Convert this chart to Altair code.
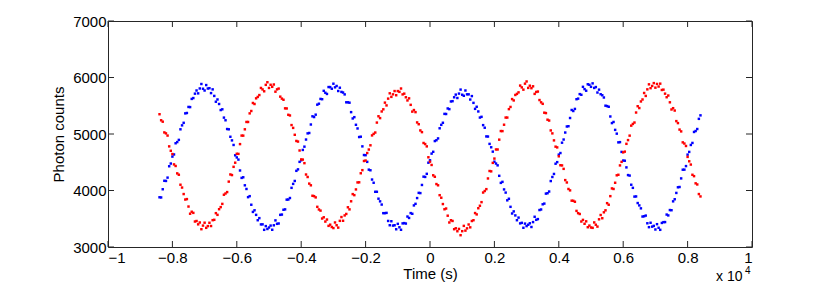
import altair as alt
import pandas as pd

# ---------------- data ----------------
time_s = list(range(-8400, 8401, 50))

blue_counts = [
    3880, 3877, 4022, 4172, 4169, 4228, 4429, 4477, 4600, 4638, 4836, 4857, 4896, 5083, 5153, 5198, 5365, 5372, 5479, 5476,
    5621, 5636, 5714, 5770, 5719, 5806, 5885, 5801, 5770,
    5866, 5805, 5811, 5724, 5790, 5674, 5571, 5611, 5531, 5424, 5437, 5290, 5243, 5088, 5083, 4951, 4887, 4806, 4623, 4585,
    4547, 4354, 4223, 4234, 4092, 4027, 3882, 3900, 3748, 3621, 3649, 3569, 3474, 3511, 3400, 3401, 3304, 3370, 3319, 3345,
    3379, 3305, 3384, 3471, 3410, 3416, 3569, 3574, 3659, 3666, 3838, 3840, 3867, 4047, 4117, 4169, 4348, 4374, 4507, 4535,
    4718, 4776, 4902, 5011, 5018, 5168, 5313, 5300, 5342, 5519, 5536, 5621, 5616, 5764, 5730, 5709, 5831, 5830, 5801, 5890,
    5826, 5850, 5761, 5819, 5745, 5734, 5701, 5561, 5561, 5554, 5387, 5275, 5298, 5163, 5098, 4946, 4952, 4781, 4628, 4625,
    4507, 4369, 4358, 4194, 4137, 3977, 3977, 3855, 3808, 3751, 3599, 3599, 3604, 3461, 3385, 3456, 3379, 3385, 3314, 3410,
    3349, 3305, 3418, 3423, 3415, 3539, 3514, 3600, 3588, 3736, 3764, 3866, 3958, 3954, 4098, 4245, 4240, 4295, 4492, 4535,
    4653, 4685, 4875, 4890, 4922, 5101, 5162, 5199, 5356, 5354, 5452, 5440, 5576, 5581, 5650, 5697, 5637, 5715, 5786, 5695,
    5676, 5770, 5702, 5702, 5610, 5671, 5551, 5445, 5482, 5399, 5291, 5304, 5157, 5111, 4957, 4955, 4825, 4765, 4688, 4510,
    4477, 4445, 4260, 4135, 4153, 4019, 3963, 3826, 3854, 3711, 3593, 3630, 3559, 3474, 3520, 3418, 3428, 3340, 3414, 3370,
    3394, 3420, 3354, 3441, 3535, 3481, 3494, 3654, 3664, 3756, 3768, 3945, 3952, 3982, 4167, 4239, 4293, 4474, 4502, 4635,
    4663, 4846, 4902, 5026, 5133, 5138, 5283, 5425, 5407, 5444, 5616, 5626, 5706, 5694, 5835, 5794, 5766, 5880, 5871, 5835,
    5896, 5815, 5831, 5734, 5785, 5704, 5686, 5646, 5501, 5494, 5482, 5310, 5193, 5213, 5073, 5006, 4852, 4856, 4683, 4530,
    4527, 4409, 4273, 4264, 4102, 4047, 3892, 3895, 3778, 3736, 3684, 3539, 3544, 3556, 3420, 3351, 3429, 3360, 3374, 3310,
    3404, 3340, 3304, 3426, 3440, 3441, 3574, 3559, 3654, 3651, 3808, 3845, 3957, 4057, 4062, 4214, 4368, 4369, 4432, 4635,
    4683, 4806, 4842, 5036, 5053, 5088, 5268, 5330,
]

red_counts = [
    5350, 5243, 5218, 5028, 5011, 4972, 4781, 4703, 4645, 4462, 4434, 4303, 4279, 4102, 4052, 3937, 3840, 3848, 3716, 3589,
    3624, 3604, 3451, 3460, 3401, 3434, 3315, 3379, 3430,
    3339, 3370, 3429, 3371, 3475, 3481, 3599, 3569, 3669, 3706, 3763, 3925, 3947, 3972, 4157, 4284, 4273, 4419, 4492, 4650,
    4648, 4821, 4972, 4971, 5083, 5213, 5213, 5365, 5407, 5549, 5531, 5631, 5656, 5689, 5815, 5789, 5756, 5870, 5916, 5815,
    5871, 5835, 5876, 5749, 5790, 5804, 5661, 5626, 5606, 5454, 5452, 5340, 5328, 5158, 5108, 4986, 4877, 4866, 4708, 4550,
    4547, 4484, 4283, 4239, 4122, 4092, 3907, 3900, 3878, 3711, 3664, 3644, 3504, 3526, 3450, 3486, 3374, 3395, 3354, 3335,
    3434, 3385, 3343, 3463, 3530, 3464, 3559, 3585, 3703, 3666, 3809, 3936, 3918, 4019, 4143, 4145, 4305, 4360, 4522, 4530,
    4663, 4725, 4800, 4975, 5002, 5026, 5202, 5314, 5281, 5399, 5437, 5555, 5506, 5626, 5720, 5657, 5702, 5760, 5686, 5760,
    5746, 5805, 5701, 5714, 5650, 5594, 5631, 5516, 5396, 5424, 5387, 5205, 5173, 5063, 5033, 4841, 4822, 4781, 4588, 4510,
    4452, 4269, 4243, 4114, 4092, 3917, 3872, 3760, 3668, 3681, 3554, 3434, 3474, 3461, 3315, 3331, 3279, 3320, 3209, 3280,
    3374, 3290, 3330, 3398, 3348, 3460, 3474, 3601, 3577, 3686, 3730, 3794, 3964, 3991, 4024, 4213, 4345, 4339, 4489, 4565,
    4726, 4726, 4900, 5052, 5051, 5164, 5291, 5291, 5440, 5479, 5618, 5594, 5691, 5710, 5737, 5857, 5825, 5785, 5891, 5930,
    5816, 5855, 5811, 5844, 5710, 5744, 5751, 5601, 5561, 5534, 5377, 5370, 5253, 5238, 5063, 5011, 4887, 4776, 4763, 4605,
    4447, 4444, 4383, 4184, 4142, 4027, 4002, 3820, 3818, 3801, 3639, 3599, 3584, 3451, 3480, 3411, 3454, 3350, 3379, 3345,
    3339, 3435, 3394, 3361, 3490, 3566, 3509, 3614, 3649, 3776, 3748, 3900, 4037, 4027, 4137, 4269, 4278, 4444, 4507, 4675,
    4688, 4826, 4892, 4971, 5148, 5178, 5203, 5380, 5492, 5459, 5576, 5611, 5726, 5674, 5790, 5879, 5811, 5850, 5901, 5820,
    5886, 5840, 5891, 5779, 5785, 5714, 5651, 5681, 5561, 5434, 5457, 5415, 5228, 5193, 5078, 5046, 4852, 4831, 4788, 4595,
    4517, 4459, 4278, 4254, 4127, 4107, 3937, 3895,
]

series_names = ["blue", "red"]
series_colors = ["#0000ff", "#ff0000"]
x_ticks = [-10000, -8000, -6000, -4000, -2000, 0, 2000, 4000, 6000, 8000, 10000]
y_ticks = [3000, 4000, 5000, 6000, 7000]

# ---------------- layout ----------------
W, H = 644, 226
FONT = "Liberation Sans"
BOX = "#262626"
TICK = 6

df = pd.concat([
    pd.DataFrame({"t": time_s, "counts": blue_counts, "series": series_names[0]}),
    pd.DataFrame({"t": time_s, "counts": red_counts, "series": series_names[1]}),
], ignore_index=True)

xscale = alt.Scale(domain=[-10000, 10000], nice=False, zero=False)
yscale = alt.Scale(domain=[3000, 7000], nice=False, zero=False)

x_axis = alt.Axis(values=x_ticks, labelExpr="format(datum.value / 10000, '~g')",
                  title="Time (s)", labelPadding=3, titlePadding=1)
y_axis = alt.Axis(values=y_ticks, format="d", title="Photon counts",
                  labelPadding=2, titlePadding=6)


def X():
    return alt.X("t:Q", scale=xscale, axis=x_axis)


def Y():
    return alt.Y("counts:Q", scale=yscale, axis=y_axis)


points = alt.Chart(df).mark_square(size=6, opacity=1).encode(
    x=X(), y=Y(),
    color=alt.Color("series:N", scale=alt.Scale(domain=series_names, range=series_colors), legend=None),
)

xt = pd.DataFrame({"t": x_ticks})
yt = pd.DataFrame({"counts": y_ticks})

tick_bottom = alt.Chart(xt).mark_rule(color=BOX, strokeWidth=1).encode(
    x=X(), y=alt.value(H), y2=alt.value(H - TICK))
tick_top = alt.Chart(xt).mark_rule(color=BOX, strokeWidth=1).encode(
    x=X(), y=alt.value(0), y2=alt.value(TICK))
tick_left = alt.Chart(yt).mark_rule(color=BOX, strokeWidth=1).encode(
    y=Y(), x=alt.value(0), x2=alt.value(TICK))
tick_right = alt.Chart(yt).mark_rule(color=BOX, strokeWidth=1).encode(
    y=Y(), x=alt.value(W), x2=alt.value(W - TICK))

one = pd.DataFrame({"a": [0]})
mult = alt.Chart(one).mark_text(text="x 10", align="left", baseline="alphabetic",
                                font=FONT, fontSize=14, color="black").encode(
    x=alt.value(608), y=alt.value(260))
expo = alt.Chart(one).mark_text(text="4", align="left", baseline="alphabetic",
                                font=FONT, fontSize=10, color="black").encode(
    x=alt.value(637), y=alt.value(253))

chart = alt.layer(points, tick_bottom, tick_top, tick_left, tick_right, mult, expo).properties(
    width=W, height=H,
    autosize="none",
    padding={"left": 100, "top": 13, "right": 70, "bottom": 39},
    background="white",
).configure_view(
    stroke=BOX, strokeWidth=1
).configure_axis(
    domain=False, ticks=False, grid=False,
    labelFont=FONT, labelFontSize=15, labelColor="black",
    titleFont=FONT, titleFontSize=15, titleFontWeight="normal", titleColor="black",
)

chart.save("out.html", embed_options={"renderer": "svg", "actions": False})
